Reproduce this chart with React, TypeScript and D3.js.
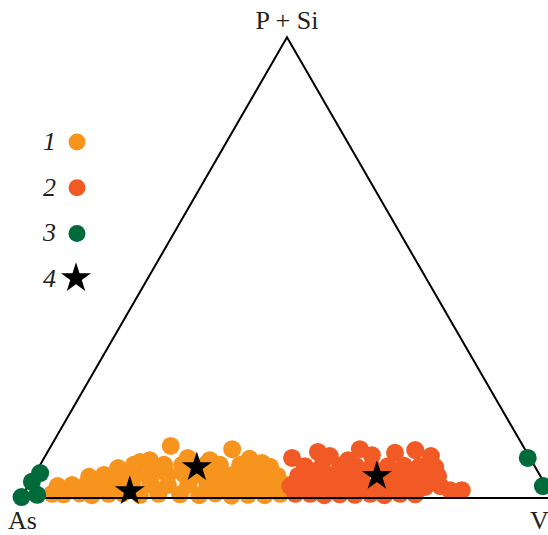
import React from 'react'
import * as d3 from 'd3'

// ternary data: [V %, P+Si %], As = 100 - V - (P+Si)
const series1: [number, number][] = [
  [5.4, 0.9], [7.6, 0.8], [10.5, 1.0], [13.0, 0.6], [16.0, 0.9], [18.6, 1.0], [22.0, 0.7], [25.4, 0.9],
  [29.5, 0.8], [33.2, 0.6], [36.0, 1.0], [39.3, 0.5], [42.3, 0.7], [45.5, 0.6], [48.3, 0.9],
  [5.6, 2.6], [8.2, 2.8], [10.8, 2.8], [13.5, 2.9], [16.5, 2.8], [19.5, 2.7], [22.8, 3.0], [26.2, 2.8],
  [30.0, 2.9], [33.7, 2.7], [36.8, 3.0], [40.1, 2.8], [43.1, 2.9], [46.2, 2.7], [48.8, 2.8],
  [10.5, 4.6], [13.1, 5.0], [16.1, 5.2], [19.1, 5.0], [22.1, 5.2], [25.1, 5.0], [28.1, 5.1],
  [31.1, 5.0], [34.2, 5.2], [37.2, 5.0], [40.2, 5.1], [43.2, 5.0], [45.8, 4.8],
  [15.0, 6.5], [17.6, 7.2], [20.6, 7.4], [23.3, 7.2], [26.7, 7.2], [31.2, 7.4], [33.8, 7.2],
  [37.6, 7.2], [40.6, 7.0], [43.4, 6.8],
  [22.5, 11.3], [34.4, 10.6], [27.0, 8.7], [20.1, 8.2], [18.5, 7.8], [31.4, 8.2], [38.7, 8.5], [41.5, 7.6]
]

const series2: [number, number][] = [
  [51.1, 0.9], [53.9, 0.9], [56.7, 0.6], [59.5, 0.8], [62.4, 0.7], [65.2, 0.9], [68.0, 0.6], [70.8, 0.9], [73.7, 0.8],
  [49.3, 2.6], [51.5, 2.4], [54.5, 2.6], [57.5, 2.7], [60.5, 2.6], [63.5, 2.5], [66.6, 2.6], [69.6, 2.7],
  [72.2, 2.6], [74.8, 2.4], [77.5, 2.6],
  [49.7, 4.8], [52.7, 4.7], [55.7, 4.9], [58.7, 4.8], [61.7, 4.6], [67.3, 4.8], [70.3, 4.9], [73.4, 4.7], [76.0, 4.8],
  [49.9, 6.9], [53.1, 6.8], [56.5, 7.0], [59.5, 6.9], [62.5, 6.8], [65.5, 6.9], [68.5, 7.0], [71.5, 6.9], [74.5, 6.7],
  [46.6, 8.7], [50.8, 10.0], [53.5, 9.1], [57.4, 8.2], [58.4, 10.6], [61.3, 9.3], [65.4, 9.8], [68.9, 10.4], [72.5, 9.1],
  [79.8, 1.7], [82.0, 1.7]
]

const series3: [number, number][] = [
  [0, 0.2], [2.7, 0.7], [0.3, 3.5], [0.9, 5.4], [90.9, 8.7], [96.8, 2.6]
]

const series4: [number, number][] = [
  [19.6, 1.7], [29.6, 6.9], [64.4, 5.0]
]

const vertexLabels = ['As', 'V', 'P + Si']
const legendLabels = ['1', '2', '3', '4']
const colors = ['#F7941E', '#F15A24', '#006B3A', '#000000']

const W = 548
const H = 535
const xLeft = 21
const xRight = 553
const yBase = 498
const side = xRight - xLeft
const yTop = yBase - side * Math.sqrt(3) / 2

// horizontal position from (V + P/2), vertical from P
const xScale = d3.scaleLinear().domain([0, 100]).range([xLeft, xRight])
const yScale = d3.scaleLinear().domain([0, 100]).range([yBase, yTop])

const px = (d: [number, number]) => xScale(d[0] + d[1] / 2)
const py = (d: [number, number]) => yScale(d[1])

const starPath = d3.symbol().type(d3.symbolStar).size(280)()

const App = () => {
  const tri = d3.line()([
    [xScale(0), yScale(0)],
    [xScale(100), yScale(0)],
    [xScale(50), yScale(100)]
  ]) + 'Z'
  const font = '"Liberation Serif", "Times New Roman", serif'
  const r = 9

  return (
    <svg width={W} height={H} style={{ position: 'absolute', left: 0, top: 0 }}>
      <g>
        {series1.map((d, i) => (
          <circle key={'a' + i} cx={px(d)} cy={py(d)} r={r} fill={colors[0]} />
        ))}
        {series2.map((d, i) => (
          <circle key={'b' + i} cx={px(d)} cy={py(d)} r={r} fill={colors[1]} />
        ))}
      </g>
      <path d={tri} fill="none" stroke="#000" strokeWidth={2} strokeLinejoin="miter" />
      <g>
        {series3.map((d, i) => (
          <circle key={'c' + i} cx={px(d)} cy={py(d)} r={r} fill={colors[2]} />
        ))}
        {series4.map((d, i) => (
          <path key={'d' + i} d={starPath} transform={`translate(${px(d)},${py(d) + 1})`} fill="#000" />
        ))}
      </g>
      <g fontFamily={font} fontSize={26} fill="#231f20">
        <text x={8} y={529}>{vertexLabels[0]}</text>
        <text x={530} y={529}>{vertexLabels[1]}</text>
        <text x={287} y={29} textAnchor="middle">{vertexLabels[2]}</text>
      </g>
      <g fontFamily={font} fontSize={26} fontStyle="italic" fill="#231f20">
        {legendLabels.map((l, i) => (
          <g key={l} transform={`translate(0,${142 + i * 45.7})`}>
            <text x={56} y={8} textAnchor="end">{l}</text>
            {i < 3
              ? <circle cx={77} cy={0} r={8.5} fill={colors[i]} />
              : <path d={starPath} transform="translate(76,-1)" fill="#000" />}
          </g>
        ))}
      </g>
    </svg>
  )
}

export default App
